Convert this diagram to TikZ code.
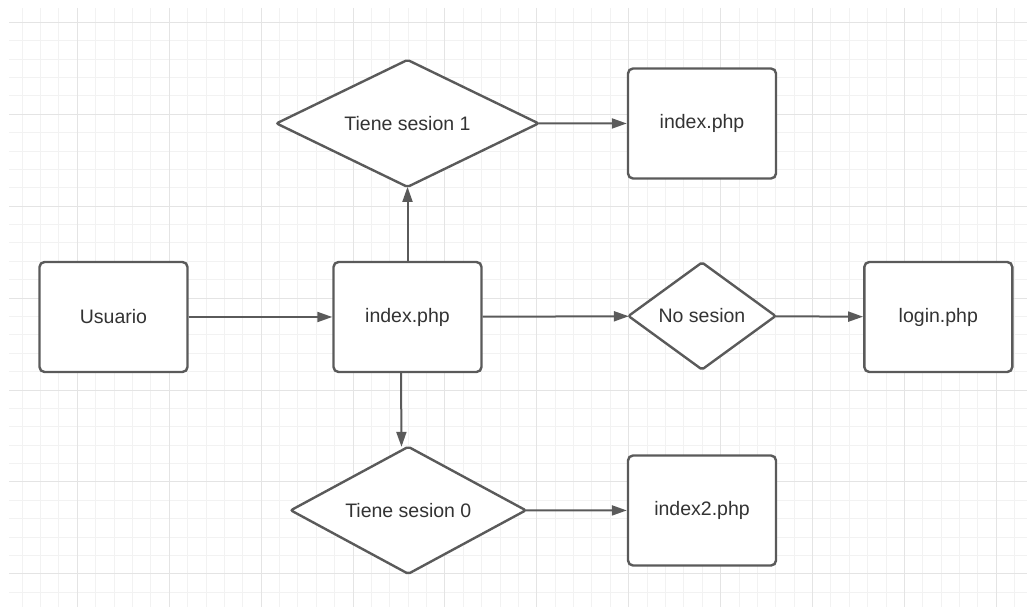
\documentclass[tikz,border=0pt]{standalone}
\usepackage{fontspec}
\setmainfont{Liberation Sans}
\usepackage{tikz}
\usetikzlibrary{arrows.meta}
\usetikzlibrary{shapes.geometric}

\begin{document}
\begin{tikzpicture}[x=1pt, y=-1pt,
    caja/.style={draw=linegray, line width=2.4pt, rounded corners=5pt, fill=white,
        minimum width=148pt, minimum height=110pt, text=textgray,
        font=\fontsize{19.5}{23}\selectfont},
    rombo/.style={draw=linegray, line width=2.4pt, diamond, shape aspect=2, rounded corners=2pt,
        fill=white, inner sep=0pt, outer sep=0pt, text=textgray, font=\fontsize{19.5}{23}\selectfont},
    flecha/.style={draw=linegray, line width=2pt, -{Triangle[length=15pt, width=10pt]}},
    minorline/.style={draw=gridminor, line width=1pt},
    majorline/.style={draw=gridmajor, line width=1pt}]
        \definecolor{linegray}{RGB}{90,90,90}
        \definecolor{textgray}{RGB}{51,51,51}
        \definecolor{gridminor}{RGB}{242,242,242}
        \definecolor{gridmajor}{RGB}{228,228,228}

        \useasboundingbox (0,0) rectangle (1027,607);

        % Background grid
        \foreach \i in {0,...,54}
            \draw[minorline] ({22.2+\i*18.38},8) -- ({22.2+\i*18.38},607);
        \foreach \j in {0,...,31}
            \draw[minorline] (9,{22.4+\j*18.38}) -- (1027,{22.4+\j*18.38});
        \foreach \i in {0,...,10}
            \draw[majorline] ({77.3+\i*91.9},8) -- ({77.3+\i*91.9},607);
        \foreach \j in {0,...,6}
            \draw[majorline] (9,{22.4+\j*91.9}) -- (1027,{22.4+\j*91.9});

        % Boxes
        \node[caja] (usuario) at (113.5,317) {Usuario};
        \node[caja] (index) at (407.5,317) {index.php};
        \node[caja] (login) at (938.3,317) {login.php};
        \node[caja] (indexup) at (702,123.5) {index.php};
        \node[caja] (indexdos) at (702,510.5) {index2.php};

        % Decisions
        \node[rombo, minimum width=262pt, minimum height=127pt] (sesionuno) at (407.5,123.4) {Tiene sesion 1};
        \node[rombo, minimum width=235pt, minimum height=127pt] (sesioncero) at (408.3,510.3) {Tiene sesion 0};
        \node[rombo, minimum width=147pt, minimum height=107pt] (nosesion) at (702,316) {No sesion};

        % Connectors
        \draw[flecha] (usuario) -- (index);
        \draw[flecha] (index) -- (sesionuno);
        \draw[flecha] (index) -- (nosesion);
        \draw[flecha] (nosesion) -- (login);
        \draw[flecha] ([xshift=-6.5pt]index.south) -- ([xshift=-6.8pt]sesioncero.north);
        \draw[flecha] (sesionuno) -- (indexup);
        \draw[flecha] (sesioncero) -- (indexdos);
    \end{tikzpicture}
\end{document}
